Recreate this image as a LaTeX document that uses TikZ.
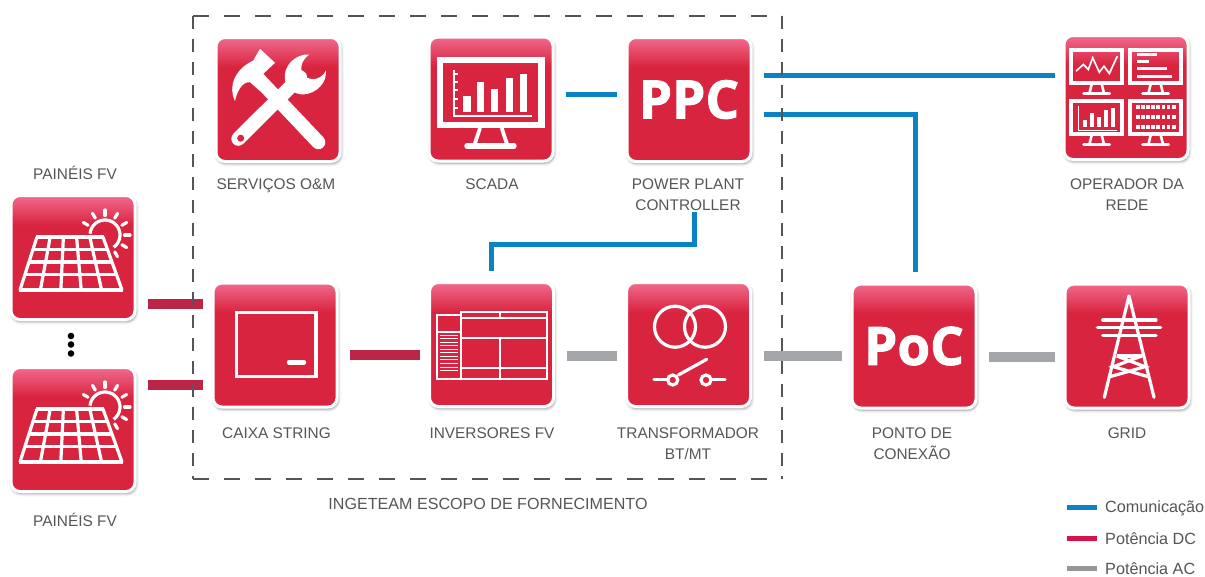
\documentclass[tikz,border=0pt]{standalone}
\usepackage{fontspec}
\setmainfont{Liberation Sans}
\newfontfamily\iconfont[BoldFeatures={FakeBold=1.6}]{Open Sans}
\usetikzlibrary{shadows.blur}

\definecolor{tilered}{HTML}{D9243F}
\definecolor{tilepink}{HTML}{F06A8C}
\definecolor{dcred}{HTML}{BD2547}
\definecolor{acgray}{HTML}{A5A6AA}
\definecolor{comblue}{HTML}{0B83C2}
\definecolor{legred}{HTML}{D5124A}
\definecolor{leggray}{HTML}{96979B}
\definecolor{labelgray}{HTML}{555555}

\tikzset{
    tile/.style={draw=white, line width=3pt, fill=tilered, rounded corners=9pt, minimum size=124pt,
        inner sep=0pt, text=white, font=\iconfont\bfseries\fontsize{53}{53}\selectfont,
        blur shadow={shadow xshift=1pt, shadow yshift=-2pt, shadow blur radius=3pt, shadow opacity=45},
        path picture={\foreach \k in {0,...,29} {
            \pgfmathsetmacro\mixpct{100-\k*100/29}
            \fill[tilepink!\mixpct!tilered, sharp corners] ([yshift=-\k pt]path picture bounding box.north west)
                rectangle ([yshift=-\k pt-1.2pt]path picture bounding box.north east);}}},
    label/.style={font=\fontsize{15.4}{21}\selectfont, align=center, text=labelgray, inner sep=1pt},
    legendtext/.style={font=\fontsize{16.2}{18}\selectfont, text=labelgray, anchor=west, inner sep=0pt},
    link/.style={shorten <=11.5pt, shorten >=8.5pt},
    dcline/.style={link, draw=dcred, line width=10pt},
    acline/.style={link, draw=acgray, line width=10pt},
    comline/.style={link, draw=comblue, line width=5pt},
    scopeline/.style={draw=labelgray, line width=1.5pt, dash pattern=on 16pt off 15pt},
    scopeside/.style={draw=labelgray, line width=1.5pt, dash pattern=on 13pt off 10pt},
    stroke/.style={draw=white, line width=3.2pt},
    thinstroke/.style={draw=white, line width=1.7pt},
    dot/.style={circle, fill=black, inner sep=0pt, minimum size=6.6pt},
    panelicon/.pic={
        \foreach \i in {0,...,5} \draw[stroke] ({-36+13.2*\i},-20.5) -- ({-53+20.4*\i},32.5);
        \foreach \h in {-20.5,-8,4.5,17,32.5} \draw[stroke] ({-37-(\h+20.5)*0.32},\h) -- ({31+(\h+20.5)*0.358},\h);
        \draw[stroke] ({32+15*cos(-175)},{-22.5+15*sin(-175)}) arc[start angle=-175, end angle=55, radius=15];
        \foreach \a in {-150,-120,...,60} \draw[stroke, line cap=round] ({32+19.5*cos(\a)},{-22.5+19.5*sin(\a)}) -- ({32+25*cos(\a)},{-22.5+25*sin(\a)});
    },
    screenicon/.pic={
        \draw[white, line width=3.6pt] (-25.5,-16.5) rectangle (25.5,16.5);
        \draw[white, line width=2.6pt] (-5,18) -- (-7,26) (5,18) -- (7,26);
        \draw[white, line width=3pt, line cap=round] (-13,27) -- (13,27);
    }
}

\begin{document}
\begin{tikzpicture}[x=1pt, y=-1pt]
    \useasboundingbox (0,0) rectangle (1205,576);

    \node[tile] (pan1) at (73,257.5) {};
    \node[tile] (pan2) at (73,429.5) {};
    \node[tile] (svc) at (278,99.5) {};
    \node[tile] (scada) at (491,99) {};
    \node[tile] (ppc) at (689,99.5) {PPC};
    \node[tile] (oper) at (1126,97.5) {};
    \node[tile] (caixa) at (275,345) {};
    \node[tile] (inv) at (491.5,344.5) {};
    \node[tile] (trafo) at (688.5,344.5) {};
    \node[tile] (poc) at (914,346) {PoC};
    \node[tile] (gridt) at (1127,346) {};

    \node[label] (pan1label) at (75,173) {PAINÉIS FV};
    \node[label] (pan2label) at (75,520) {PAINÉIS FV};
    \node[label] (svclabel) at (276,186) {SERVIÇOS O\&M};
    \node[label] (scadalabel) at (492,184) {SCADA};
    \node[label] (ppclabel) at (688,194.5) {POWER PLANT\\CONTROLLER};
    \node[label] (operlabel) at (1127,194.5) {OPERADOR DA\\REDE};
    \node[label] (caixalabel) at (276.5,433) {CAIXA STRING};
    \node[label] (invlabel) at (492,433) {INVERSORES FV};
    \node[label] (trafolabel) at (688,443.5) {TRANSFORMADOR\\BT/MT};
    \node[label] (poclabel) at (912,443.5) {PONTO DE\\CONEXÃO};
    \node[label] (gridlabel) at (1127,433) {GRID};
    \node[label, font=\fontsize{16.1}{21}\selectfont] (scopelabel) at (488,504) {INGETEAM ESCOPO DE FORNECIMENTO};

    \node[dot] (dot1) at (71,336) {};
    \node[dot] (dot2) at (71,344.5) {};
    \node[dot] (dot3) at (71,353.5) {};

    % connectors
    \draw[dcline] ([yshift=-46.5pt]pan1.east) -- ([yshift=41pt]caixa.west);
    \draw[dcline] ([yshift=44.5pt]pan2.east) -- ([yshift=-40pt]caixa.west);
    \draw[dcline] ([yshift=-10pt]caixa.east) -- ([yshift=-10.5pt]inv.west);
    \draw[acline] ([yshift=-11.5pt]inv.east) -- ([yshift=-11.5pt]trafo.west);
    \draw[acline] ([yshift=-11.5pt]trafo.east) -- ([yshift=-10pt]poc.west);
    \draw[acline] ([yshift=-11pt]poc.east) -- ([yshift=-11pt]gridt.west);
    \draw[comline] ([yshift=5pt]scada.east) -- ([yshift=5.5pt]ppc.west);
    \draw[comline, shorten >=7.5pt] ([yshift=24.5pt]ppc.east) -- ([yshift=22.5pt]oper.west);
    \draw[comline, shorten >=10.5pt] ([yshift=-14.5pt]ppc.east) -| ([xshift=1pt]poc.north);
    \coordinate (ppcbend) at (694,244);
    \draw[comline, shorten <=10pt, shorten >=0pt] (inv.north) |- (ppcbend) -- ([xshift=6pt]ppclabel.south);

    % scope of supply
    \node[inner sep=0pt, outer sep=0pt, minimum width=589pt, minimum height=463pt] (scopebox) at (487.5,247.5) {};
    \draw[scopeline] (scopebox.north west) -- (scopebox.north east);
    \draw[scopeline] (scopebox.south west) -- (scopebox.south east);
    \draw[scopeside] (scopebox.north west) -- (scopebox.south west);
    \draw[scopeside] (scopebox.north east) -- (scopebox.south east);

    % icons
    \pic at (pan1.center) {panelicon};
    \pic at (pan2.center) {panelicon};

    \begin{scope}[shift={(svc.center)}]
        \fill[white] (-18,-50.7) -- (-3,-36.7) -- (-14.7,-25.7) -- (-9.7,-17.3) -- (-18.7,-9) -- (-28,-17.3)
            .. controls (-36,-18) and (-41,-8) .. (-43,1.7) .. controls (-50,-12) and (-44,-30) .. (-24.7,-39) -- cycle;
        \draw[white, line width=14pt, line cap=round] (-19.7,-20.7) -- (40.3,42.7);
        \draw[white, line width=14pt, line cap=round] (-39.7,39.3) -- (22,-22.3);
        \fill[white] (31.3,-45) .. controls (17,-46) and (5,-33) .. (7,-20.7) .. controls (7,-12) and (16,-5) .. (25.3,-5)
            .. controls (39,-6) and (49,-17) .. (48,-29) .. controls (44,-21) and (34,-17) .. (26,-24)
            .. controls (21,-30) and (23,-39) .. (31.3,-45) -- cycle;
        \fill[tilered] (-37.3,38.7) circle[radius=3.5];
    \end{scope}

    \begin{scope}[shift={(scada.center)}]
        \draw[white, line width=6.5pt] (-51,-39) rectangle (50.7,26);
        \draw[white, line width=3.8pt] (-11,29) -- (-16,44.3) (10.7,29) -- (15.7,44.3);
        \draw[white, line width=5.4pt, line cap=round] (-24,47) -- (23,47);
        \draw[white, line width=2pt] (-37,-29) -- (-37,17) -- (40.7,17);
        \foreach \t in {-25,-17,-9,0,9} \draw[white, line width=1.5pt] (-37,\t) -- (-33,\t);
        \fill[white] (-27.7,-3) rectangle (-20.3,13.3);
        \fill[white] (-13.7,-16.7) rectangle (-6.7,13.3);
        \fill[white] (0,-9.7) rectangle (7.3,13.3);
        \fill[white] (14.7,-21.3) rectangle (22.3,13.3);
        \fill[white] (29,-24.7) rectangle (36.3,13.3);
    \end{scope}

    \begin{scope}[shift={(oper.center)}]
        \pic at (-29.3,-31.3) {screenicon};
        \pic at (29.7,-31.3) {screenicon};
        \pic at (-29.3,19.7) {screenicon};
        \pic at (29.7,19.7) {screenicon};
        \draw[white, line width=1.7pt] (-50,-26.3) -- (-42.7,-33) -- (-37.7,-28) -- (-33.3,-39.7) -- (-26.7,-25.3) -- (-22,-31.3) -- (-16.7,-24) -- (-8.7,-41.3);
        \draw[white, line width=3pt] (11.3,-43) -- (30.7,-43) (11.3,-36.3) -- (23.3,-36.3) (11.3,-29) -- (40.7,-29) (11.3,-21.3) -- (45.7,-21.3);
        \draw[white, line width=1.4pt] (-47.7,8) -- (-47.7,32.7) -- (-9.3,32.7);
        \fill[white] (-43.3,22) rectangle (-39.3,29.3);
        \fill[white] (-36,15.3) rectangle (-32,29.3);
        \fill[white] (-29.3,19.3) rectangle (-25.3,29.3);
        \fill[white] (-22,12.7) rectangle (-18,29.3);
        \fill[white] (-14.8,10.3) rectangle (-10.8,29.3);
        \foreach \r in {9.3,19.7,29.3} \foreach \c in {0,...,7} \fill[white] ({10+5.1*\c},{\r-2.2}) rectangle ({13.8+5.1*\c},{\r+2.2});
    \end{scope}

    \begin{scope}[shift={(caixa.center)}]
        \draw[stroke] (-38.3,-32.7) rectangle (41,31.7);
        \draw[white, line width=4.5pt, line cap=round] (14,17.3) -- (29,17.3);
    \end{scope}

    \begin{scope}[shift={(inv.center)}]
        \draw[thinstroke] (-54.8,-29.5) rectangle (-30.8,34.5);
        \draw[thinstroke] (-30.8,-32.2) rectangle (55.2,34.5);
        \draw[white, line width=2.2pt] (-30.8,-26.2) -- (55.2,-26.2);
        \draw[thinstroke] (-30.8,-6.8) -- (55.2,-6.8);
        \draw[thinstroke] (-30.8,23.8) -- (55.2,23.8);
        \draw[thinstroke] (8.5,-32.2) -- (8.5,-26.2);
        \draw[thinstroke] (8.5,-6.8) -- (8.5,34.5);
        \draw[thinstroke] (-54.8,-12.8) -- (-30.8,-12.8);
        \foreach \s in {0,...,10} \draw[white, line width=1pt] (-51.5,{-9.5+3.57*\s}) -- (-33.8,{-9.5+3.57*\s});
    \end{scope}

    \begin{scope}[shift={(trafo.center)}]
        \draw[stroke] (-13.5,-17.8) circle[radius=20.5];
        \draw[stroke] (16.5,-17.8) circle[radius=20.5];
        \draw[stroke, line cap=round] (-34.5,34.8) -- (-21.2,34.8);
        \draw[stroke] (-15.8,35.5) circle[radius=5];
        \draw[stroke, line cap=round] (-10.2,30.5) -- (18.2,14.8);
        \draw[stroke] (17.5,35.5) circle[radius=5];
        \draw[stroke, line cap=round] (23.2,34.8) -- (36.5,34.8);
    \end{scope}

    \begin{scope}[shift={(gridt.center)}]
        \draw[stroke, line cap=round, line join=round] (-22.7,51.3) -- (2,-50) -- (27,51.3);
        \draw[stroke, line cap=round] (-24.3,-26) -- (29,-26);
        \draw[stroke, line cap=round] (-29.7,-18.3) -- (33.7,-18.3);
        \draw[stroke, line cap=round] (-24.3,-10.3) -- (29,-10.3);
        \draw[stroke] (-10.3,10) -- (14.7,10);
        \draw[stroke] (-10.3,10) -- (18,20.7) -- (-17,30.7);
        \draw[stroke] (14.7,10) -- (-13.7,20.7) -- (21.3,30.7);
    \end{scope}

    % legend
    \node[legendtext] (legcom) at (1105,508) {Comunicação};
    \node[legendtext] (legdc) at (1105,539) {Potência DC};
    \node[legendtext] (legac) at (1105,569) {Potência AC};
    \coordinate (comstart) at (1067,507);
    \coordinate (dcstart) at (1067,538);
    \coordinate (acstart) at (1067,568);
    \draw[comblue, line width=5pt] (comstart) -- ++(30,0);
    \draw[legred, line width=5pt] (dcstart) -- ++(30,0);
    \draw[leggray, line width=5pt] (acstart) -- ++(30,0);
\end{tikzpicture}
\end{document}
